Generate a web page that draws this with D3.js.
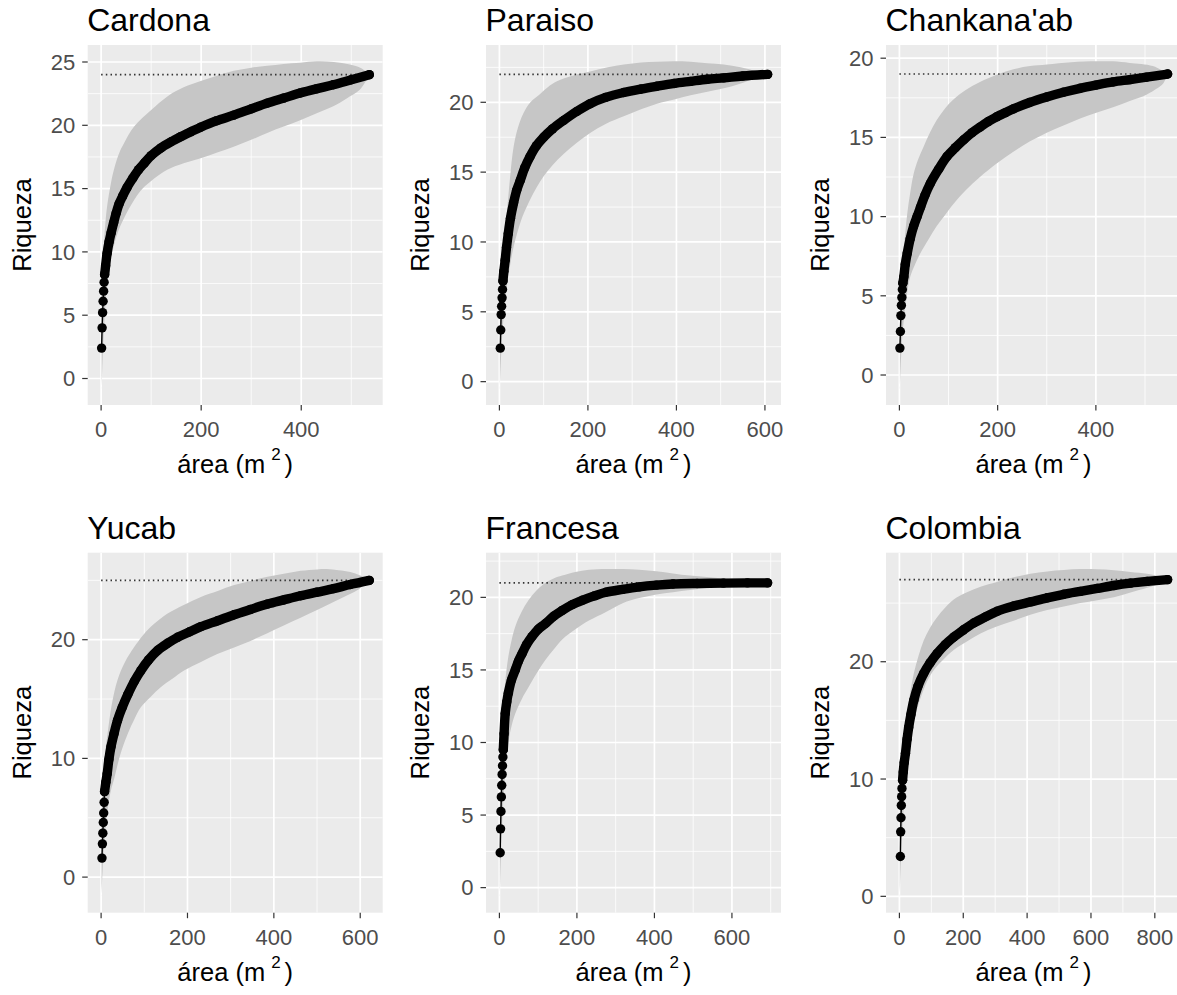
<!DOCTYPE html>
<html>
<head>
<meta charset="utf-8">
<script src="https://cdn.jsdelivr.net/npm/d3@7"></script>
<style>
body { margin: 0; background: #fff; }
svg { display: block; }
text { font-family: "Liberation Sans", Arial, sans-serif; }
</style>
</head>
<body>
<svg id="chart" width="1177" height="995"></svg>
<script>
// sites, in facet order
var sites = ["Cardona", "Paraiso", "Chankana'ab", "Yucab", "Francesa", "Colombia"];
var totals = [24, 22, 19, 25, 21, 27];

var yTicks = [[0, 5, 10, 15, 20, 25], [0, 5, 10, 15, 20], [0, 5, 10, 15, 20],
              [0, 10, 20], [0, 5, 10, 15, 20], [0, 10, 20]];
var xTicks = [[0, 200, 400], [0, 200, 400, 600], [0, 200, 400],
              [0, 200, 400, 600], [0, 200, 400, 600], [0, 200, 400, 600, 800]];

// Cardona
var cardonaArea = [1,2,3,4,5,6,7,9,12,16,20,25,30,36,43,52,63,75,86,100,119,140,159,180,199,230,265,300,332,365,398,430,464,500,536];
var cardonaRiq = [2.4,4.0,5.2,6.1,6.9,7.6,8.2,8.9,9.9,10.8,11.5,12.3,13.05,13.8,14.4,15.1,15.8,16.5,17.0,17.6,18.2,18.7,19.1,19.5,19.85,20.35,20.8,21.3,21.75,22.15,22.55,22.88,23.2,23.6,24.0];
var cardonaHiX = [1,4,8,12,20,27,36,46,66,100,133,165,199,230,265,300,332,365,398,431,465,497,520,536];
var cardonaHi = [5.6,9.5,12.0,13.6,15.5,16.7,17.8,18.6,19.9,21.2,22.3,23.0,23.5,23.9,24.3,24.55,24.7,24.85,24.95,25.05,25.0,24.8,24.5,24.0];
var cardonaLoX = [1,4,8,13,20,33,45,66,83,100,133,165,199,232,265,300,332,365,398,431,464,490,517,536];
var cardonaLo = [-0.8,2.5,5.5,8.0,9.6,11.5,12.6,14.1,15.0,15.6,16.5,17.0,17.4,17.85,18.3,18.85,19.4,19.9,20.4,20.95,21.5,22.1,22.8,24.0];

// Paraiso
var paraisoArea = [2,3,4,5,6,7,8,10,13,16,20,25,32,39,47,57,69,84,100,120,145,175,205,240,281,320,356,395,432,470,507,550,606];
var paraisoRiq = [2.4,3.7,4.8,5.4,6.0,6.6,7.2,7.9,8.7,9.6,10.6,11.7,12.8,13.7,14.4,15.3,16.1,16.9,17.5,18.1,18.7,19.35,19.9,20.35,20.7,20.95,21.15,21.35,21.5,21.65,21.75,21.88,22.0];
var paraisoHiX = [1,5,10,17,24,32,42,54,70,92,110,130,165,205,245,281,320,356,395,432,470,507,545,583,606];
var paraisoHi = [5.3,8.5,10.5,12.2,14.6,16.8,18.2,19.2,20.0,20.6,21.1,21.5,21.9,22.2,22.5,22.7,22.85,22.9,22.93,22.9,22.8,22.7,22.5,22.2,22.0];
var paraisoLoX = [1,5,10,16,24,31,39,52,69,84,100,120,145,175,205,240,281,320,356,395,432,470,507,540,568,606];
var paraisoLo = [-0.5,2.6,4.8,6.6,8.3,9.5,10.5,11.8,13.0,13.9,14.7,15.5,16.3,17.1,17.8,18.45,19.0,19.5,19.9,20.2,20.5,20.75,21.0,21.3,21.6,22.0];

// Chankana'ab
var chankArea = [1,2,3,4,5,6,7,9,12,16,22,29,36,43,52,63,80,97,114,131,148,164,181,198,215,232,265,300,334,368,400,435,470,503,546];
var chankRiq = [1.7,2.75,3.75,4.4,4.9,5.4,5.8,6.2,7.0,7.7,8.6,9.4,10.0,10.6,11.35,12.1,13.0,13.8,14.35,14.85,15.3,15.65,16.0,16.3,16.55,16.8,17.2,17.55,17.85,18.1,18.3,18.5,18.65,18.8,19.0];
var chankHiX = [1,4,8,12,16,22,29,38,49,62,76,92,110,135,164,198,232,266,300,350,401,435,469,516,546];
var chankHi = [4.3,6.3,7.8,9.0,10.2,11.5,12.7,13.6,14.4,15.3,16.1,16.8,17.4,18.0,18.5,18.95,19.3,19.5,19.6,19.75,19.8,19.8,19.7,19.5,19.0];
var chankLoX = [1,4,8,14,22,32,43,60,76,93,110,136,164,198,232,266,300,334,368,401,435,469,503,525,537,546];
var chankLo = [-0.86,1.5,3.2,4.8,6.2,7.0,7.7,8.6,9.4,10.1,10.8,11.7,12.5,13.35,14.1,14.75,15.3,15.75,16.2,16.55,16.9,17.3,17.7,18.1,18.4,19.0];

// Yucab
var yucabArea = [2,3,4,5,6,7,8,11,14,18,23,30,38,49,62,77,92,110,131,154,177,204,231,270,308,346,385,423,462,500,538,577,621];
var yucabRiq = [1.6,2.8,3.7,4.6,5.4,6.3,7.2,8.0,8.7,9.9,11.0,12.1,13.2,14.3,15.4,16.5,17.4,18.3,19.1,19.7,20.2,20.65,21.1,21.6,22.1,22.55,23.0,23.35,23.7,24.0,24.3,24.65,25.0];
var yucabHiX = [1,4,8,15,25,38,55,77,95,115,135,154,190,231,270,308,346,385,423,462,500,523,550,577,600,621];
var yucabHi = [4.8,7.5,10.0,12.1,14.6,16.6,18.1,19.4,20.3,21.1,21.7,22.2,22.9,23.6,24.1,24.6,24.95,25.3,25.55,25.8,25.92,25.95,25.85,25.7,25.4,25.0];
var yucabLoX = [1,4,8,14,22,31,45,62,77,92,115,138,165,192,230,269,308,346,385,423,462,500,531,562,595,621];
var yucabLo = [-1.62,1.0,3.2,5.4,7.2,8.4,10.4,12.1,13.3,14.3,15.2,16.0,16.7,17.4,18.1,18.8,19.35,19.9,20.55,21.2,21.85,22.5,23.05,23.6,24.2,25.0];

// Francesa
var francesaArea = [2,3,4,5,6,7,8,9,10,12,15,19,23,31,41,49,58,70,84,100,119,140,162,188,214,245,275,318,361,405,448,510,578,640,692];
var francesaRiq = [2.4,4.05,5.25,6.25,7.05,7.8,8.4,9.0,9.5,10.6,12.0,12.8,13.4,14.3,15.0,15.6,16.1,16.75,17.3,17.8,18.2,18.7,19.1,19.5,19.8,20.1,20.35,20.55,20.72,20.84,20.92,20.96,20.98,21.0,21.0];
var francesaHiX = [1,4,7,10,15,23,31,41,57,75,95,119,140,162,196,231,275,318,361,405,448,492,535,578,630,692];
var francesaHi = [5.4,8.5,10.5,12.5,14.2,15.9,17.0,18.0,19.0,19.8,20.45,21.0,21.3,21.5,21.75,21.9,21.95,21.95,21.9,21.8,21.65,21.5,21.4,21.3,21.15,21.0];
var francesaLoX = [1,4,8,14,23,32,41,58,75,97,119,140,162,196,231,275,318,361,405,448,492,535,578,630,692];
var francesaLo = [-0.6,2.2,5.0,7.6,10.0,11.2,12.0,13.0,13.8,14.8,15.7,16.4,17.1,17.8,18.4,19.0,19.6,19.95,20.2,20.35,20.5,20.65,20.8,20.9,21.0];

// Colombia
var colombiaArea = [3,4,5,6,7,8,10,12,15,19,24,29,36,45,58,76,96,118,143,170,200,233,268,306,358,411,463,515,567,620,672,724,776,840];
var colombiaRiq = [3.4,5.5,6.7,7.75,8.5,9.2,9.9,10.6,11.4,12.2,13.4,14.4,15.5,16.7,17.9,19.0,19.9,20.7,21.45,22.1,22.7,23.3,23.8,24.3,24.75,25.1,25.45,25.75,26.0,26.25,26.5,26.7,26.85,27.0];
var colombiaHiX = [1,4,8,14,24,34,45,60,76,96,118,143,170,210,254,305,358,410,463,515,567,620,672,724,776,810,840];
var colombiaHi = [6.8,9.5,12.0,13.8,15.6,17.4,19.0,20.5,21.8,22.9,23.8,24.6,25.3,25.9,26.4,26.8,27.2,27.5,27.7,27.82,27.9,27.88,27.8,27.65,27.5,27.3,27.0];
var colombiaLoX = [1,4,8,14,22,34,45,58,70,86,108,138,170,210,254,305,358,410,463,515,567,620,672,724,776,810,840];
var colombiaLo = [0.0,2.6,5.2,7.8,10.2,12.9,14.8,16.2,17.2,18.3,19.3,20.2,21.0,21.7,22.4,23.0,23.5,24.0,24.4,24.7,25.0,25.25,25.5,25.9,26.3,26.6,27.0];

var curves = [
	[cardonaArea, cardonaRiq, cardonaHiX, cardonaHi, cardonaLoX, cardonaLo],
	[paraisoArea, paraisoRiq, paraisoHiX, paraisoHi, paraisoLoX, paraisoLo],
	[chankArea, chankRiq, chankHiX, chankHi, chankLoX, chankLo],
	[yucabArea, yucabRiq, yucabHiX, yucabHi, yucabLoX, yucabLo],
	[francesaArea, francesaRiq, francesaHiX, francesaHi, francesaLoX, francesaLo],
	[colombiaArea, colombiaRiq, colombiaHiX, colombiaHi, colombiaLoX, colombiaLo]
];

// layout
var colLeft = [87.7, 486, 886], rowTop = [45, 552.7];
var pw = 295, ph = 360;
var bandFrom = [6, 6, 6, 6, 8, 6]; // where the markers pile up into a solid band

var svg = d3.select("#chart");

function pad(ext) {
	var d = (ext[1] - ext[0]) * 0.05;
	return [ext[0] - d, ext[1] + d];
}

function minors(ticks, dom) {
	var step = ticks[1] - ticks[0], out = [];
	for (var v = ticks[0] - step / 2; v <= ticks[ticks.length - 1] + step; v += step) {
		if (v >= dom[0] && v <= dom[1]) out.push(v);
	}
	return out;
}

sites.forEach(function(site, i) {
	var c = curves[i];
	var area = c[0], riq = c[1], hiX = c[2], hi = c[3], loX = c[4], lo = c[5];
	var left = colLeft[i % 3], top = rowTop[Math.floor(i / 3)];

	var x = d3.scaleLinear()
		.domain(pad(d3.extent([0].concat(area, hiX, loX))))
		.range([left, left + pw]);
	var y = d3.scaleLinear()
		.domain(pad(d3.extent([totals[i]].concat(riq, hi, lo))))
		.range([top + ph, top]);

	var g = svg.append("g").attr("class", "panel");

	g.append("clipPath").attr("id", "clip" + i)
		.append("rect").attr("x", left).attr("y", top).attr("width", pw).attr("height", ph);

	g.append("rect")
		.attr("x", left).attr("y", top).attr("width", pw).attr("height", ph)
		.attr("fill", "#ebebeb");

	var grid = g.append("g").attr("clip-path", "url(#clip" + i + ")");
	grid.selectAll(".ymin").data(minors(yTicks[i], y.domain())).enter().append("line")
		.attr("x1", left).attr("x2", left + pw)
		.attr("y1", function(d) { return y(d); }).attr("y2", function(d) { return y(d); })
		.attr("stroke", "#fff").attr("stroke-width", 0.8);
	grid.selectAll(".xmin").data(minors(xTicks[i], x.domain())).enter().append("line")
		.attr("y1", top).attr("y2", top + ph)
		.attr("x1", function(d) { return x(d); }).attr("x2", function(d) { return x(d); })
		.attr("stroke", "#fff").attr("stroke-width", 0.8);
	grid.selectAll(".ymaj").data(yTicks[i]).enter().append("line")
		.attr("x1", left).attr("x2", left + pw)
		.attr("y1", function(d) { return y(d); }).attr("y2", function(d) { return y(d); })
		.attr("stroke", "#fff").attr("stroke-width", 1.7);
	grid.selectAll(".xmaj").data(xTicks[i]).enter().append("line")
		.attr("y1", top).attr("y2", top + ph)
		.attr("x1", function(d) { return x(d); }).attr("x2", function(d) { return x(d); })
		.attr("stroke", "#fff").attr("stroke-width", 1.7);

	var plot = g.append("g").attr("clip-path", "url(#clip" + i + ")");

	// ribbon: upper edge left to right, lower edge back
	var edge = d3.line().x(function(d) { return x(d[0]); }).y(function(d) { return y(d[1]); })
		.curve(d3.curveCatmullRom);
	var upPts = hiX.map(function(v, k) { return [v, hi[k]]; });
	var loPts = loX.map(function(v, k) { return [v, lo[k]]; }).reverse();
	plot.append("path")
		.attr("d", edge(upPts) + edge(loPts).replace(/^M/, "L") + "Z")
		.attr("fill", "#c6c6c6");

	// dotted line at total richness
	plot.append("line")
		.attr("x1", x(0)).attr("x2", x(area[area.length - 1]))
		.attr("y1", y(totals[i])).attr("y2", y(totals[i]))
		.attr("stroke", "#333").attr("stroke-width", 1.6)
		.attr("stroke-dasharray", "1.5,3.2");

	var pts = area.map(function(v, k) { return [v, riq[k]]; });
	var line = d3.line().x(function(d) { return x(d[0]); }).y(function(d) { return y(d[1]); })
		.curve(d3.curveCatmullRom);

	plot.append("path").attr("d", line(pts))
		.attr("fill", "none").attr("stroke", "#000").attr("stroke-width", 1.4);
	plot.append("path").attr("d", line(pts.slice(bandFrom[i])))
		.attr("fill", "none").attr("stroke", "#000").attr("stroke-width", 9.4)
		.attr("stroke-linecap", "round").attr("stroke-linejoin", "round");
	plot.selectAll("circle").data(pts).enter().append("circle")
		.attr("cx", function(d) { return x(d[0]); })
		.attr("cy", function(d) { return y(d[1]); })
		.attr("r", 4.7).attr("fill", "#000");

	// axes
	g.selectAll(".ytick").data(yTicks[i]).enter().append("line")
		.attr("x1", left - 5.5).attr("x2", left)
		.attr("y1", function(d) { return y(d); }).attr("y2", function(d) { return y(d); })
		.attr("stroke", "#333").attr("stroke-width", 1.2);
	g.selectAll(".ylab").data(yTicks[i]).enter().append("text")
		.attr("x", left - 12.5).attr("y", function(d) { return y(d); })
		.attr("dy", "0.35em").attr("text-anchor", "end")
		.attr("font-size", 22).attr("fill", "#4d4d4d")
		.text(function(d) { return d; });

	g.selectAll(".xtick").data(xTicks[i]).enter().append("line")
		.attr("y1", top + ph).attr("y2", top + ph + 5.5)
		.attr("x1", function(d) { return x(d); }).attr("x2", function(d) { return x(d); })
		.attr("stroke", "#333").attr("stroke-width", 1.2);
	g.selectAll(".xlab").data(xTicks[i]).enter().append("text")
		.attr("x", function(d) { return x(d); }).attr("y", top + ph + 32)
		.attr("text-anchor", "middle")
		.attr("font-size", 22).attr("fill", "#4d4d4d")
		.text(function(d) { return d; });

	var xt = g.append("text")
		.attr("x", left + pw / 2).attr("y", top + ph + 68)
		.attr("text-anchor", "middle").attr("font-size", 25.5).attr("fill", "#000");
	xt.append("tspan").text("área (m");
	xt.append("tspan").attr("dx", 6).attr("dy", -13).attr("font-size", 17).text("2");
	xt.append("tspan").attr("dx", 4).attr("dy", 13).text(")");

	g.append("text")
		.attr("transform", "translate(" + (left - 57) + "," + (top + ph / 2) + ") rotate(-90)")
		.attr("text-anchor", "middle").attr("font-size", 25.5).attr("fill", "#000")
		.text("Riqueza");

	g.append("text")
		.attr("x", left - 0.5).attr("y", top - 14)
		.attr("font-size", 32).attr("fill", "#000")
		.text(site);
});
</script>
</body>
</html>
